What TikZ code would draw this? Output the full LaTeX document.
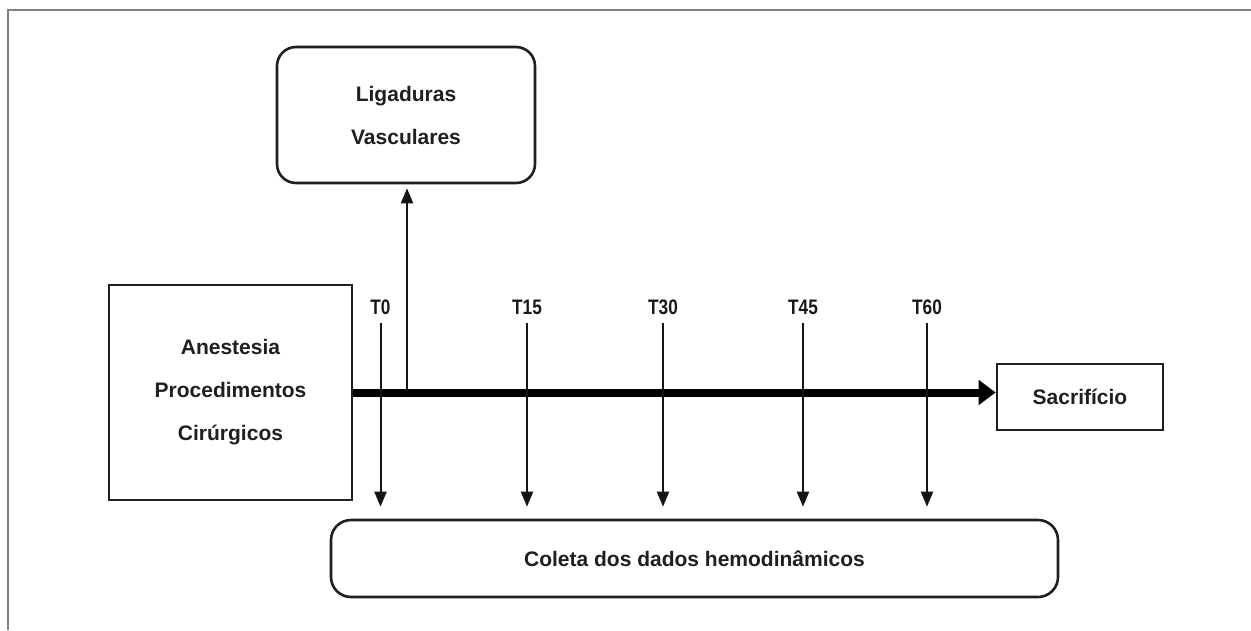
\documentclass[tikz,border=0pt]{standalone}
\usepackage{fontspec}
\setmainfont{Liberation Sans}
\usetikzlibrary{arrows.meta}
\tikzset{
  ink/.style={draw=black!88, line width=2.6pt},
  boxtext/.style={font=\fontsize{21}{43}\selectfont\bfseries, text=black!88, align=center, inner sep=0pt},
  roundbox/.style={ink, boxtext, rounded corners=19pt},
  squarebox/.style={ink, boxtext},
  tlabel/.style={font=\fontsize{21}{24}\selectfont\bfseries, text=black!90, inner sep=0pt, anchor=base},
  thinarrow/.style={draw=black!92, line width=2pt, -{Triangle[width=12pt,length=15pt]}},
  mainarrow/.style={draw=black, line width=8pt, -{Triangle[width=24pt,length=17pt]}},
  frame/.style={draw=black!50, line width=1.4pt}
}
\newcommand{\narrowT}[1]{\scalebox{0.82}[1]{#1}}
\begin{document}
\begin{tikzpicture}[x=1pt,y=-1pt]
\useasboundingbox (0,0) rectangle (1251,630);
\fill[white] (0,0) rectangle (1251,630);
% frame (top and left)
\draw[frame] (1251,10) -- (8,10) -- (8,630);

% boxes
\node[roundbox, minimum width=258pt, minimum height=136pt] (lig) at (406,115) {Ligaduras\\Vasculares};
\node[squarebox, minimum width=243pt, minimum height=215pt] (anest) at (230.5,392.5) {Anestesia\\Procedimentos\\Cirúrgicos};
\node[squarebox, minimum width=166pt, minimum height=66pt] (sacr) at (1080,397) {Sacrifício};
\node[roundbox, rounded corners=20pt, minimum width=727pt, minimum height=77pt] (coleta) at (694.5,558.5) {Coleta dos dados hemodinâmicos};

% time labels
\node[tlabel] (t0) at (380.5,314) {\narrowT{T0}};
\node[tlabel] (t15) at (527,314) {\narrowT{T15}};
\node[tlabel] (t30) at (663,314) {\narrowT{T30}};
\node[tlabel] (t45) at (803,314) {\narrowT{T45}};
\node[tlabel] (t60) at (927,314) {\narrowT{T60}};

% main timeline
\draw[mainarrow] (anest.east) -- (sacr.west |- anest.east);

% up arrow to Ligaduras
\coordinate (up) at (407,389);
\draw[thinarrow, shorten >=4pt] (up) -- (up |- lig.south);

% down arrows
\foreach \t in {t0,t15,t30,t45,t60}{
  \draw[thinarrow, shorten >=12pt] ([yshift=-9pt]\t.base) -- (\t.base |- coleta.north);
}
\end{tikzpicture}
\end{document}
